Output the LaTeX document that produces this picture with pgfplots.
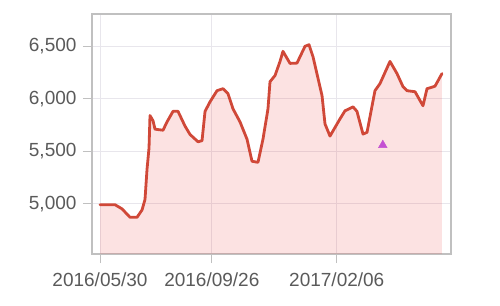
\documentclass[border=0pt]{standalone}
\usepackage{fontspec}
\setmainfont{Liberation Sans}
\usepackage{pgfplots}
\pgfplotsset{compat=1.18}
\definecolor{linecol}{RGB}{208,72,56}
\definecolor{fillbase}{RGB}{235,60,60}
\definecolor{gridcol}{RGB}{232,230,236}
\definecolor{framecol}{RGB}{192,192,192}
\definecolor{labcol}{RGB}{90,90,90}
\definecolor{tricol}{RGB}{196,80,210}
\begin{document}
\begin{tikzpicture}[x=1pt,y=1pt]
\begin{axis}[
  at={(0,0)}, anchor=south west,
  width=359pt, height=240pt, scale only axis,
  xmin=-1.22, xmax=53.37, ymin=4520, ymax=6808,
  xtick={0,17,36}, xticklabels={2016/05/30,2016/09/26,2017/02/06},
  ytick={5000,5500,6000,6500}, yticklabels={{5,000},{5,500},{6,000},{6,500}},
  tick pos=left, tick align=outside, major tick length=9pt,
  tick style={framecol, line width=1pt},
  axis line style={framecol, line width=1.6pt},
  grid=major, grid style={gridcol, line width=0.9pt},
  ticklabel style={font=\fontsize{19}{22}\selectfont, text=labcol},
  xticklabel style={yshift=-6pt},
  yticklabel style={xshift=-3pt},
  clip=true,
]
\addplot[draw=none, fill=fillbase, fill opacity=0.15] coordinates {
(0,4990) (2.28,4990) (3.35,4950) (4.56,4870) (5.63,4870) (6.39,4940) (6.84,5040)
(7.15,5330) (7.45,5530) (7.60,5840) (8.06,5790) (8.36,5710) (9.58,5700) (10.19,5780)
(11.10,5880) (11.86,5880) (12.92,5740) (13.68,5660) (14.90,5590) (15.51,5600) (15.97,5880)
(16.72,5970) (17.79,6077) (18.70,6096) (19.46,6048) (20.22,5904) (21.29,5779) (22.35,5615)
(23.11,5404) (24.02,5394) (24.78,5615) (25.54,5904) (25.85,6163) (26.61,6221) (27.37,6356)
(27.82,6452) (28.89,6337) (29.95,6340) (31.17,6500) (31.78,6515) (32.39,6400) (33.76,6029)
(34.21,5760) (34.97,5644) (36.49,5808) (37.25,5885) (38.47,5923) (39.07,5880) (39.99,5663)
(40.60,5680) (41.81,6077) (42.57,6144) (44.09,6356) (45.16,6240) (46.07,6115) (46.68,6077)
(47.90,6067) (49.11,5933) (49.72,6096) (50.48,6110) (50.94,6120) (52.0,6240)
} \closedcycle;
\addplot[linecol, line width=2.8pt, line join=round, line cap=round] coordinates {
(0,4990) (2.28,4990) (3.35,4950) (4.56,4870) (5.63,4870) (6.39,4940) (6.84,5040)
(7.15,5330) (7.45,5530) (7.60,5840) (8.06,5790) (8.36,5710) (9.58,5700) (10.19,5780)
(11.10,5880) (11.86,5880) (12.92,5740) (13.68,5660) (14.90,5590) (15.51,5600) (15.97,5880)
(16.72,5970) (17.79,6077) (18.70,6096) (19.46,6048) (20.22,5904) (21.29,5779) (22.35,5615)
(23.11,5404) (24.02,5394) (24.78,5615) (25.54,5904) (25.85,6163) (26.61,6221) (27.37,6356)
(27.82,6452) (28.89,6337) (29.95,6340) (31.17,6500) (31.78,6515) (32.39,6400) (33.76,6029)
(34.21,5760) (34.97,5644) (36.49,5808) (37.25,5885) (38.47,5923) (39.07,5880) (39.99,5663)
(40.60,5680) (41.81,6077) (42.57,6144) (44.09,6356) (45.16,6240) (46.07,6115) (46.68,6077)
(47.90,6067) (49.11,5933) (49.72,6096) (50.48,6110) (50.94,6120) (52.0,6240)
};
\addplot[only marks, mark=triangle*, mark size=5pt, color=tricol] coordinates {(43,5558)};
\end{axis}
\pgfresetboundingbox
\path[use as bounding box] (-92,-51) rectangle (408,254);
\end{tikzpicture}
\end{document}
